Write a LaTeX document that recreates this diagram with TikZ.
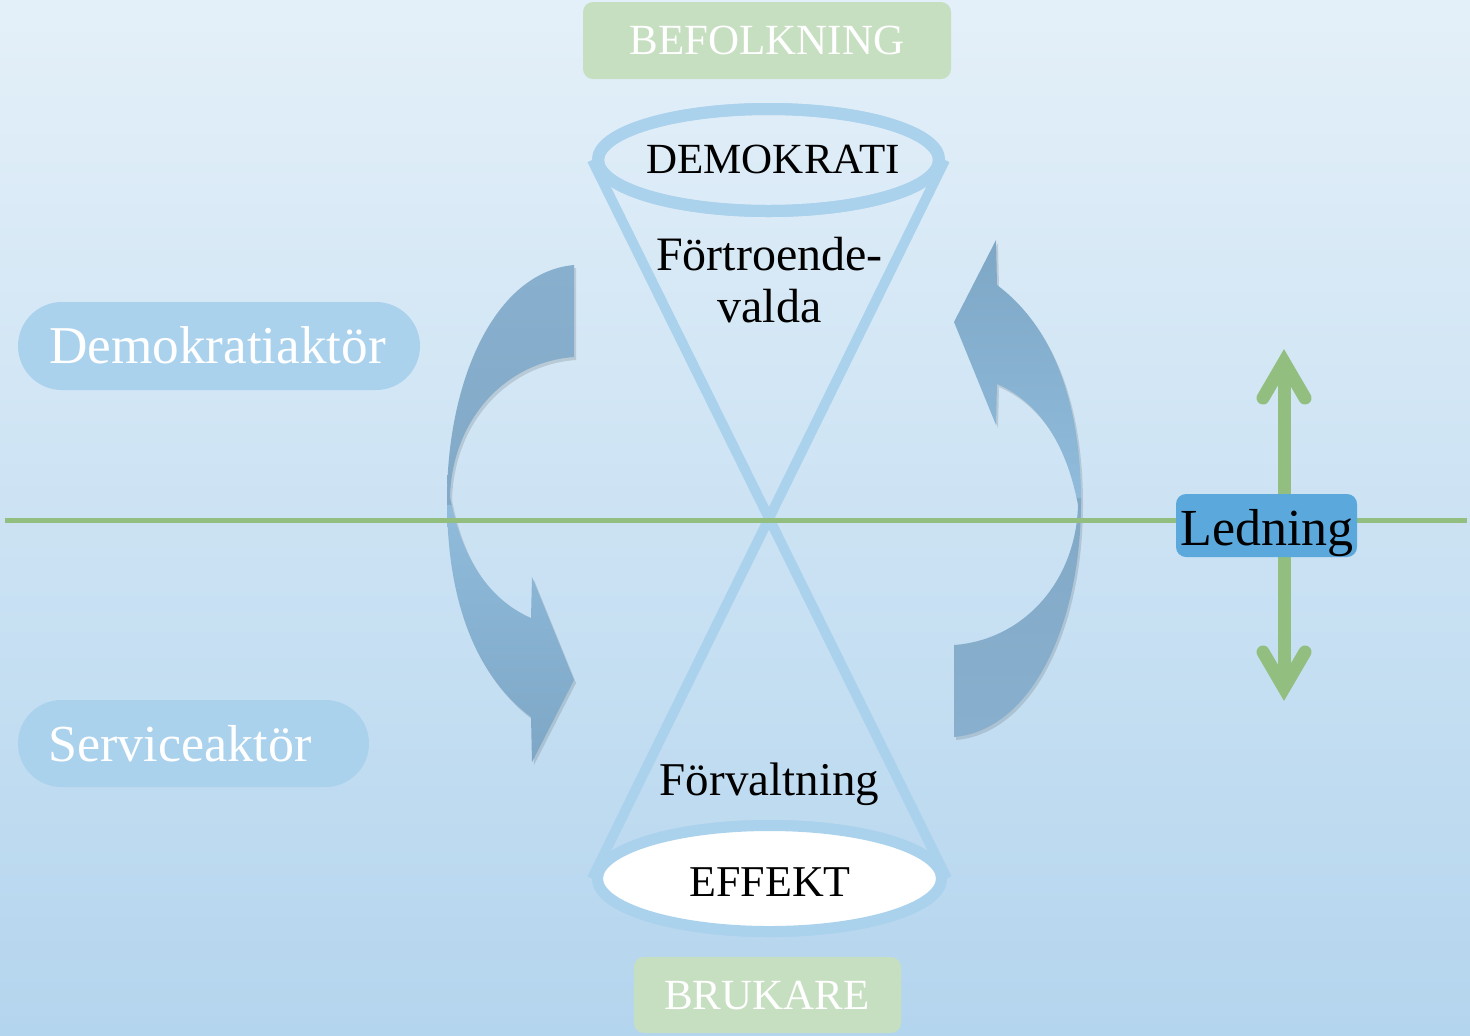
\documentclass[tikz,border=0pt]{standalone}
\usepackage{fontspec}
\setmainfont{Liberation Serif}
\usetikzlibrary{shapes.geometric}
\definecolor{bgtop}{HTML}{E4F0F9}
\definecolor{bgbot}{HTML}{B4D5EE}
\definecolor{ringc}{HTML}{ABD2ED}
\definecolor{pillc}{HTML}{ABD2ED}
\definecolor{gboxc}{HTML}{C7DFC1}
\definecolor{glinec}{HTML}{92BF7F}
\definecolor{lboxc}{HTML}{5AA8DC}
\definecolor{arrA}{HTML}{88B0CE}
\definecolor{arrB}{HTML}{7CA3C0}
\definecolor{arrC}{HTML}{A2CEEE}
\definecolor{arrD}{HTML}{7EA7C6}
\newcommand\fsz[1]{\fontsize{#1}{#1}\selectfont}
\tikzset{
  pics/curvarr/.style 2 args={code={
    \fill[black,opacity=.12,shift={(2*#2,3*#2)}] (574,265) .. controls (495,272) and (447,380) .. (447,500) .. controls (447,600) and (475,675) .. (531,717) -- (532,762) -- (574,680) -- (532,577) -- (531,618) .. controls (490,600) and (462,560) .. (450,497) .. controls (452,420) and (505,362) .. (574,357) -- cycle;
    \begin{scope}
      \clip (380,150) rectangle (640,505);
      \shade[top color=arrA,middle color=arrB,bottom color=arrB,shading angle=#1] (574,265) .. controls (495,272) and (447,380) .. (447,500) .. controls (447,600) and (475,675) .. (531,717) -- (532,762) -- (574,680) -- (532,577) -- (531,618) .. controls (490,600) and (462,560) .. (450,497) .. controls (452,420) and (505,362) .. (574,357) -- cycle;
    \end{scope}
    \begin{scope}
      \clip (380,505) rectangle (640,850);
      \shade[top color=arrC,middle color=arrC,bottom color=arrD,shading angle=#1] (574,265) .. controls (495,272) and (447,380) .. (447,500) .. controls (447,600) and (475,675) .. (531,717) -- (532,762) -- (574,680) -- (532,577) -- (531,618) .. controls (490,600) and (462,560) .. (450,497) .. controls (452,420) and (505,362) .. (574,357) -- cycle;
    \end{scope}
  }},
}
\begin{document}
\begin{tikzpicture}[x=0.5pt,y=-0.5pt,
  pillbox/.style={fill=pillc, inner sep=0pt},
  greenbox/.style={fill=gboxc, rounded corners=5pt, inner sep=0pt},
  ringnode/.style={ellipse, draw=ringc, inner sep=0pt},
  cone/.style={draw=ringc, line width=5pt},
  hline/.style={draw=glinec, line width=2.5pt},
  garrow/.style={draw=glinec, line width=6.5pt, line cap=round, line join=miter},
  blacktext/.style={text=black, inner sep=0pt, anchor=base},
  whitetext/.style={text=white, inner sep=0pt, anchor=base},
  ledbox/.style={fill=lboxc, rounded corners=5pt, inner sep=0pt}]
\useasboundingbox (0,0) rectangle (1470,1035);
\shade[top color=bgtop,bottom color=bgbot] (0,0) rectangle (1470,1035);

% ellipses and cone
\node[ringnode, line width=6pt, minimum width=170.5pt, minimum height=51pt] (topell) at (768.5,160) {};
\node[ringnode, line width=5.5pt, fill=white, minimum width=172pt, minimum height=53pt] (botell) at (769.5,878.5) {};
\draw[cone] (topell.west) -- (botell.east);
\draw[cone] (topell.east) -- (botell.west);
\node[ringnode, line width=6pt, minimum width=170.5pt, minimum height=51pt] at (768.5,160) {};
\node[ringnode, line width=5.5pt, fill=white, minimum width=172pt, minimum height=53pt] at (769.5,878.5) {};

% curved arrows
\pic at (0,0) {curvarr={0}{1}};
\pic[rotate=180] at (1528,1002) {curvarr={180}{-1}};

% horizontal line
\coordinate (hl) at (5,520);
\coordinate (hr) at (1467,520);
\draw[hline] (hl) -- (hr);

% boxes
\node[greenbox, minimum width=184pt, minimum height=38.5pt] (befbox) at (767,40.5) {};
\node[greenbox, minimum width=133.5pt, minimum height=38pt] (brukbox) at (767.5,995) {};
\node[pillbox, rounded corners=22pt, minimum width=201pt, minimum height=44pt] (dabox) at (219,346) {};
\node[pillbox, rounded corners=21.7pt, minimum width=175.5pt, minimum height=43.5pt] (sabox) at (193.5,743.5) {};

% Ledning double arrow
\coordinate (ltop) at (1284,362);
\coordinate (lbot) at (1284,688);
\coordinate (lt1) at (1263,398);
\coordinate (lt2) at (1305,398);
\coordinate (lb1) at (1263,652);
\coordinate (lb2) at (1305,652);
\draw[garrow, line cap=butt] (ltop) -- (lbot);
\draw[garrow] (lt1) -- (ltop) -- (lt2);
\draw[garrow] (lb1) -- (lbot) -- (lb2);
\node[ledbox, minimum width=90.5pt, minimum height=31.5pt] (ledbox) at (1266.5,525.5) {};

% texts
\node[whitetext, font=\fsz{21.5}] (bef) at (767,54) {BEFOLKNING};
\node[whitetext, font=\fsz{21.5}] (bruk) at (767,1009) {BRUKARE};
\node[blacktext, font=\fsz{21.5}] (demo) at (773,173) {DEMOKRATI};
\node[blacktext, font=\fsz{22}] (eff) at (770,896) {EFFEKT};
\node[blacktext, font=\fsz{24}] (fort1) at (769.5,270) {Förtroende-};
\node[blacktext, font=\fsz{24}] (fort2) at (769.5,322) {valda};
\node[blacktext, font=\fsz{23.5}] (forv) at (769.5,795) {Förvaltning};
\node[whitetext, font=\fsz{26.6}] (da) at (217.5,363) {Demokratiaktör};
\node[whitetext, font=\fsz{26}] (sa) at (180,761) {Serviceaktör};
\node[blacktext, font=\fsz{26}] (led) at (1267,545) {Ledning};
\end{tikzpicture}
\end{document}
